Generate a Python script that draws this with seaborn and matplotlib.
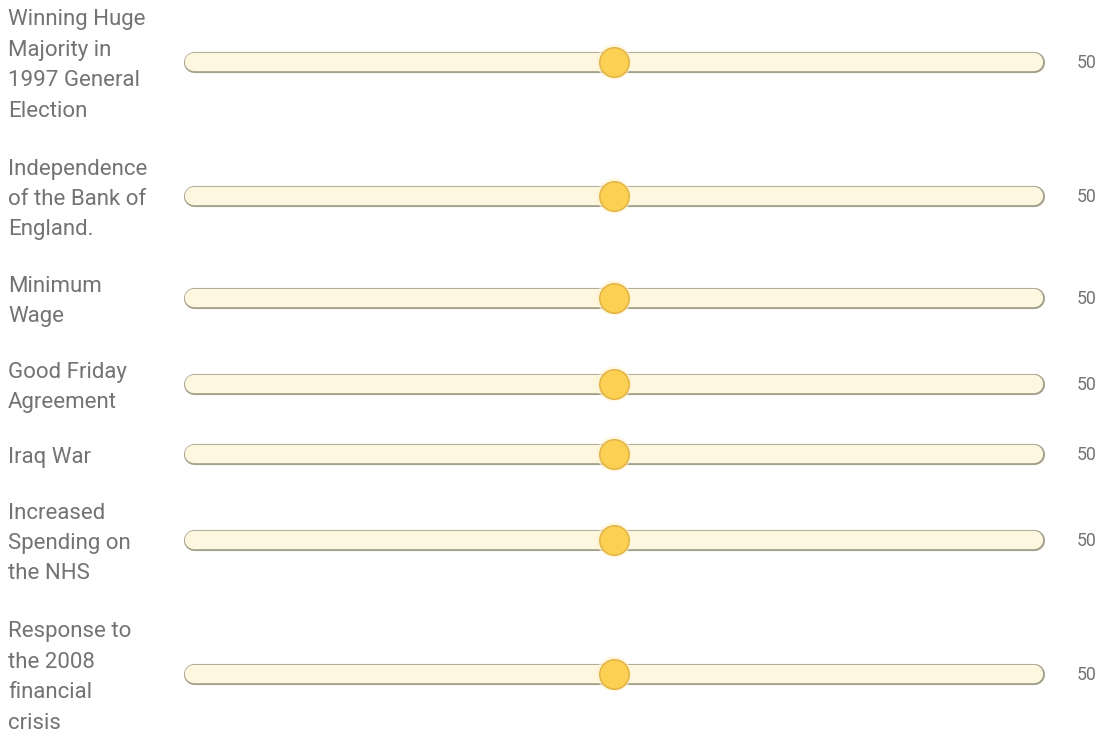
import matplotlib
matplotlib.use("Agg")
import matplotlib.pyplot as plt
import matplotlib.transforms as mtransforms
import seaborn as sns
import pandas as pd

categories = [
    "Winning Huge\nMajority in\n1997 General\nElection",
    "Independence\nof the Bank of\nEngland.",
    "Minimum\nWage",
    "Good Friday\nAgreement",
    "Iraq War",
    "Increased\nSpending on\nthe NHS",
    "Response to\nthe 2008\nfinancial\ncrisis",
]
values = [50, 50, 50, 50, 50, 50, 50]
value_labels = ["50", "50", "50", "50", "50", "50", "50"]
scale_min = 0
scale_max = 100

sns.set_theme(style="white")
plt.rcParams["font.family"] = ["Roboto", "DejaVu Sans"]

W, H, DPI = 1105, 741, 100
fig = plt.figure(figsize=(W / DPI, H / DPI), dpi=DPI)
fig.patch.set_facecolor("white")
ax = fig.add_axes([194 / W, 0, (1034 - 194) / W, 1])
ax.set_xlim(scale_min, scale_max)
ax.set_ylim(H, 0)
ax.axis("off")

# layout: row heights from number of label lines
line_h = 32
pad = 22
ys = []
top = -13
for c in categories:
    n = c.count("\n") + 1
    h = n * line_h + pad
    ys.append(top + h / 2)
    top += h

df = pd.DataFrame({"cat": categories, "value": values, "y": ys,
                   "lo": [scale_min] * len(values), "hi": [scale_max] * len(values)})

track_edge = "#a39f8a"
track_fill = "#fdf7e0"
for _, r in df.iterrows():
    ax.plot([r["lo"], r["hi"]], [r["y"], r["y"]], color=track_edge, lw=15.2,
            solid_capstyle="round", zorder=1, clip_on=False)
    ax.plot([r["lo"], r["hi"]], [r["y"], r["y"]], color=track_fill, lw=13.2,
            solid_capstyle="round", zorder=2, clip_on=False)

# soft glow
sns.scatterplot(data=df, x="value", y="y", s=640, color="#fff3cf", edgecolor="none",
                alpha=0.6, ax=ax, zorder=3, legend=False)
sns.scatterplot(data=df, x="value", y="y", s=450, color="#fcd053", edgecolor="#e2b446",
                linewidth=1.1, ax=ax, zorder=4, legend=False)

text_color = "#737373"
trans_lab = mtransforms.blended_transform_factory(fig.transFigure, ax.transData)
for c, y, v in zip(df["cat"], df["y"], value_labels):
    ax.text(8 / W, y + 3.5, c, transform=trans_lab, ha="left", va="center",
            fontsize=16, color=text_color, linespacing=1.59)
    ax.text(1087 / W, y + 1, v, transform=trans_lab, ha="center", va="center",
            fontsize=12.8, color=text_color)

fig.savefig("out.png", dpi=DPI, facecolor="white")
